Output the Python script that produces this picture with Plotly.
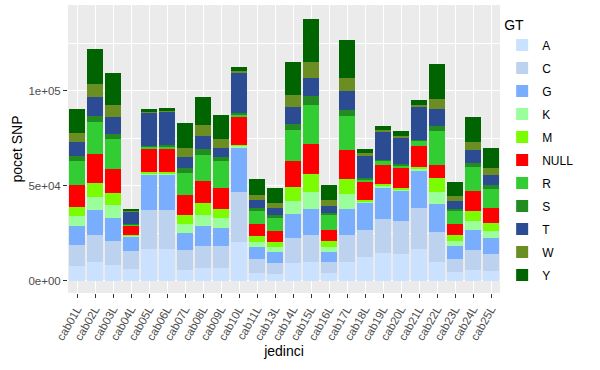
import plotly.graph_objects as go

jedinci = ["cab01L", "cab02L", "cab03L", "cab04L", "cab05L", "cab06L", "cab07L", "cab08L",
           "cab09L", "cab10L", "cab11L", "cab13L", "cab14L", "cab15L", "cab16L", "cab17L",
           "cab18L", "cab19L", "cab20L", "cab21L", "cab22L", "cab23L", "cab24L", "cab25L"]

gt_levels = ["A", "C", "G", "K", "M", "NULL", "R", "S", "T", "W", "Y"]

# counts (in thousands of SNPs), one list per genotype class, ordered as `jedinci`
A = [7.6, 9.7, 8.4, 6.3, 16.4, 16.7, 5.8, 6.7, 6.7, 20.4, 4.0, 3.5, 9.3, 9.7, 3.9, 9.7, 12.3, 14.6, 14.1, 16.9, 9.9, 4.4, 5.8, 5.3]
C = [11.1, 14.2, 12.7, 9.2, 20.6, 20.3, 10.2, 11.4, 11.4, 26.1, 7.4, 5.8, 12.9, 14.1, 6.0, 14.1, 14.6, 17.6, 17.2, 21.1, 15.6, 7.2, 10.2, 8.8]
G = [9.8, 13.1, 11.6, 7.5, 19.0, 19.0, 9.0, 10.4, 9.7, 23.5, 6.4, 5.7, 12.6, 13.7, 5.1, 13.7, 14.1, 16.7, 15.9, 20.1, 15.0, 6.5, 10.4, 8.4]
K = [5.3, 7.0, 6.9, 0.6, 0.5, 0.5, 4.6, 5.8, 4.9, 0.9, 2.4, 2.8, 7.1, 9.1, 2.6, 7.9, 0.7, 0.9, 1.0, 1.0, 6.1, 2.5, 4.9, 3.5]
M = [5.1, 7.6, 6.7, 0.3, 0.5, 0.5, 5.1, 6.4, 5.1, 0.6, 3.4, 2.4, 7.4, 9.4, 3.0, 7.9, 0.7, 0.9, 0.7, 0.7, 7.3, 3.2, 5.3, 4.1]
NULL = [11.6, 14.9, 12.3, 5.3, 12.2, 12.2, 10.2, 11.7, 11.0, 14.7, 6.0, 5.7, 13.7, 15.8, 6.3, 15.5, 9.5, 10.0, 10.2, 11.1, 6.8, 5.8, 10.6, 7.9]
R = [12.3, 17.1, 16.0, 0.4, 1.2, 1.6, 11.6, 13.6, 14.2, 1.4, 7.4, 7.2, 16.4, 20.8, 7.9, 18.0, 1.4, 2.3, 1.3, 2.7, 17.8, 7.4, 12.6, 10.4]
S = [2.8, 2.8, 2.8, 0.3, 0.5, 0.5, 2.6, 3.2, 2.3, 0.6, 1.0, 1.4, 3.0, 4.7, 0.6, 3.1, 0.9, 0.7, 0.8, 0.5, 3.0, 0.5, 2.0, 1.8]
T = [7.4, 10.0, 8.5, 6.4, 17.3, 17.6, 6.0, 6.8, 4.4, 21.1, 4.2, 3.9, 9.1, 9.4, 3.8, 9.7, 11.8, 14.3, 14.1, 17.6, 8.8, 4.4, 7.0, 5.2]
W = [4.6, 7.1, 6.7, 0.3, 0.5, 0.5, 4.6, 6.0, 4.7, 1.2, 2.7, 2.3, 6.2, 8.2, 3.0, 6.9, 0.9, 1.2, 0.7, 0.7, 5.3, 2.5, 4.1, 3.7]
Y = [12.7, 18.1, 16.7, 1.2, 1.6, 1.6, 13.2, 14.8, 12.7, 2.1, 8.4, 8.1, 17.2, 22.9, 8.0, 20.2, 2.3, 2.1, 2.8, 2.6, 18.4, 7.5, 13.2, 10.6]

series = {"A": A, "C": C, "G": G, "K": K, "M": M, "NULL": NULL,
          "R": R, "S": S, "T": T, "W": W, "Y": Y}

colors = {"A": "#CAE1FF", "C": "#BCD2EE", "G": "#79AEFF", "K": "#9AFF9A", "M": "#7CFC00",
          "NULL": "#FF0000", "R": "#32CD32", "S": "#228B22", "T": "#2B4C93",
          "W": "#6B8E23", "Y": "#006400"}

y_tickvals = [0, 50000, 100000]
y_ticktext = ["0e+00", "5e+04", "1e+05"]

fig = go.Figure()
for g in gt_levels:
    fig.add_trace(go.Bar(
        x=jedinci,
        y=[v * 1000 for v in series[g]],
        name=g,
        legendgroup=g,
        marker=dict(color=colors[g], line=dict(width=0)),
    ))

font_family = "Liberation Sans, Arial, sans-serif"

fig.update_layout(
    width=600, height=370,
    barmode="stack",
    bargap=0.1,
    plot_bgcolor="#EBEBEB",
    paper_bgcolor="white",
    margin=dict(l=68, r=100, t=5, b=77),
    font=dict(family=font_family, size=12, color="black"),
    legend=dict(
        title=dict(text="GT", font=dict(size=14, color="black")),
        traceorder="grouped",
        tracegroupgap=4,
        x=1.005, xanchor="left", y=0.975, yanchor="top",
        font=dict(size=12, color="black"),
        itemwidth=30,
    ),
    xaxis=dict(
        title=dict(text="jedinci", font=dict(size=14, color="black"), standoff=2),
        tickangle=-60,
        tickfont=dict(size=11.5, color="#4D4D4D"),
        ticks="outside", ticklen=4, tickcolor="#333333", tickwidth=1,
        showgrid=True, gridcolor="white", gridwidth=1.1,
        zeroline=False, showline=False,
        automargin=False,
    ),
    yaxis=dict(
        title=dict(text="pocet SNP", font=dict(size=14, color="black"), standoff=2),
        range=[-6500, 145000],
        tickvals=y_tickvals, ticktext=y_ticktext,
        tickfont=dict(size=11.5, color="#4D4D4D"),
        ticks="outside", ticklen=4, tickcolor="#333333", tickwidth=1,
        showgrid=True, gridcolor="white", gridwidth=1.1,
        minor=dict(tickvals=[25000, 75000, 125000], showgrid=True,
                   gridcolor="white", gridwidth=0.5, ticks=""),
        zeroline=False, showline=False,
        automargin=False,
    ),
)

fig.write_html("out.html", config={"displayModeBar": False},
               post_script="document.body.style.margin='0';")
